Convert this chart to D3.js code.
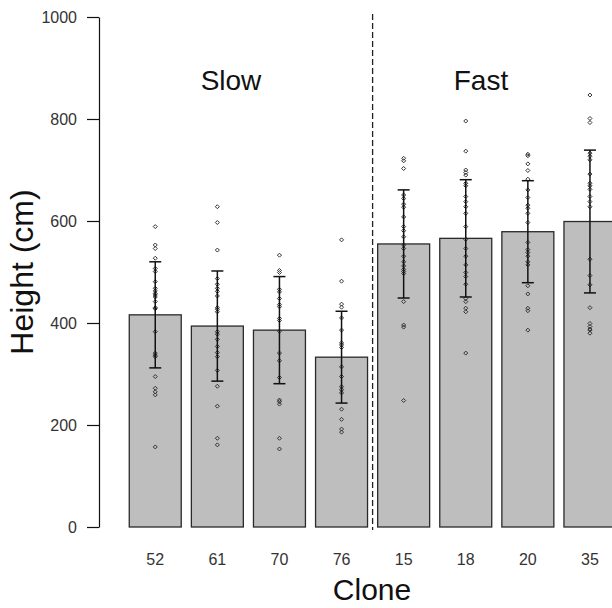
<!DOCTYPE html>
<html>
<head>
<meta charset="utf-8">
<script src="https://cdn.jsdelivr.net/npm/d3@7"></script>
<style>
  body { margin: 0; background: #fff; }
  svg { display: block; font-family: "Liberation Sans", Arial, sans-serif; }
</style>
</head>
<body>
<div id="chart"></div>
<script>
// clones, grouped by growth rate
var clones = ["52", "61", "70", "76", "15", "18", "20", "35"];
var groups = ["Slow", "Fast"];

// mean height and sd per clone (cm)
var means = [416, 394, 386, 333, 555, 566, 579, 599];
var sds = [104, 108, 105, 90, 106, 115, 100, 140];

// individual trees per clone
var h52 = [589, 553, 546, 527, 507, 501, 481, 468, 463, 458, 455, 451, 442, 430, 428, 383, 341, 337, 334, 295, 272, 265, 259, 157];
var h61 = [628, 597, 543, 487, 476, 468, 462, 453, 430, 427, 422, 383, 378, 368, 354, 342, 334, 307, 276, 237, 174, 161];
var h70 = [533, 503, 499, 466, 461, 448, 436, 432, 409, 405, 384, 341, 326, 293, 249, 246, 241, 174, 153];
var h76 = [563, 482, 437, 431, 410, 386, 361, 357, 352, 314, 295, 275, 269, 263, 231, 211, 192, 186];
var h15 = [723, 718, 703, 651, 644, 633, 627, 608, 589, 581, 569, 553, 546, 531, 520, 512, 505, 501, 497, 442, 396, 392, 248];
var h18 = [796, 737, 700, 695, 690, 674, 669, 648, 638, 628, 615, 589, 564, 546, 531, 514, 499, 491, 476, 448, 442, 429, 422, 341];
var h20 = [731, 728, 712, 699, 682, 661, 646, 631, 625, 615, 597, 558, 544, 538, 531, 520, 514, 473, 457, 429, 424, 386];
var h35 = [847, 801, 793, 733, 727, 720, 692, 674, 669, 662, 648, 638, 628, 525, 493, 475, 430, 399, 393, 388, 386, 380];
var trees = [h52, h61, h70, h76, h15, h18, h20, h35];

var yTicks = [0, 200, 400, 600, 800, 1000];

var width = 612, height = 608;

var svg = d3.select("#chart").append("svg")
    .attr("width", width)
    .attr("height", height);

var x = d3.scaleBand()
    .domain(clones)
    .range([124.2, 621])
    .paddingInner(0.163)
    .paddingOuter(0.0815);

var y = d3.scaleLinear()
    .domain([0, 1000])
    .range([527, 17]);

var bw = x.bandwidth();

// y axis
var yAxis = svg.append("g")
    .attr("transform", "translate(99,0)")
    .call(d3.axisLeft(y).tickValues(yTicks).tickFormat(d3.format("d"))
        .tickSize(12).tickSizeOuter(0).tickPadding(10));
yAxis.select(".domain").attr("stroke", "#111").attr("stroke-width", 1.2);
yAxis.selectAll(".tick line").attr("stroke", "#111").attr("stroke-width", 1.2);
yAxis.selectAll(".tick text")
    .attr("font-size", 16)
    .attr("fill", "#333")
    .style("font-family", "Liberation Sans, Arial, sans-serif");

// bars
svg.selectAll("rect.bar")
    .data(clones)
  .enter().append("rect")
    .attr("class", "bar")
    .attr("x", function(d) { return x(d); })
    .attr("y", function(d, i) { return y(means[i]); })
    .attr("width", bw)
    .attr("height", function(d, i) { return y(0) - y(means[i]); })
    .attr("fill", "#bebebe")
    .attr("stroke", "#2a2a2a")
    .attr("stroke-width", 1.3);

// slow / fast divider
var divX = (x("76") + bw + x("15")) / 2;
svg.append("line")
    .attr("x1", divX).attr("x2", divX)
    .attr("y1", 14).attr("y2", 530)
    .attr("stroke", "#222")
    .attr("stroke-width", 1.3)
    .attr("stroke-dasharray", "6,3");

// individual points (open diamonds)
var diamond = "M0,-2L2,0L0,2L-2,0Z";
clones.forEach(function(c, i) {
  var cx = x(c) + bw / 2;
  svg.selectAll("path.pt" + c)
      .data(trees[i])
    .enter().append("path")
      .attr("class", "pt" + c)
      .attr("d", diamond)
      .attr("transform", function(v) { return "translate(" + cx + "," + y(v) + ")"; })
      .attr("fill", "none")
      .attr("stroke", "#333")
      .attr("stroke-width", 1);
});

// error bars (mean +/- sd)
var err = svg.selectAll("g.err")
    .data(clones)
  .enter().append("g")
    .attr("class", "err")
    .attr("transform", function(d) { return "translate(" + (x(d) + bw / 2) + ",0)"; });

err.append("line")
    .attr("y1", function(d, i) { return y(means[i] - sds[i]); })
    .attr("y2", function(d, i) { return y(means[i] + sds[i]); })
    .attr("stroke", "#111")
    .attr("stroke-width", 1.5);

err.append("line")
    .attr("x1", -6).attr("x2", 6)
    .attr("y1", function(d, i) { return y(means[i] + sds[i]); })
    .attr("y2", function(d, i) { return y(means[i] + sds[i]); })
    .attr("stroke", "#111")
    .attr("stroke-width", 1.5);

err.append("line")
    .attr("x1", -6).attr("x2", 6)
    .attr("y1", function(d, i) { return y(means[i] - sds[i]); })
    .attr("y2", function(d, i) { return y(means[i] - sds[i]); })
    .attr("stroke", "#111")
    .attr("stroke-width", 1.5);

// clone labels
svg.selectAll("text.clone")
    .data(clones)
  .enter().append("text")
    .attr("class", "clone")
    .attr("x", function(d) { return x(d) + bw / 2; })
    .attr("y", 565)
    .attr("text-anchor", "middle")
    .attr("font-size", 16)
    .attr("fill", "#333")
    .text(function(d) { return d; });

// group labels
svg.append("text")
    .attr("x", 231).attr("y", 90)
    .attr("text-anchor", "middle")
    .attr("font-size", 28)
    .attr("fill", "#111")
    .text(groups[0]);

svg.append("text")
    .attr("x", 481).attr("y", 90)
    .attr("text-anchor", "middle")
    .attr("font-size", 28)
    .attr("fill", "#111")
    .text(groups[1]);

// axis titles
svg.append("text")
    .attr("transform", "translate(33,272) rotate(-90)")
    .attr("text-anchor", "middle")
    .attr("font-size", 32)
    .attr("fill", "#111")
    .text("Height (cm)");

svg.append("text")
    .attr("x", 372).attr("y", 600)
    .attr("text-anchor", "middle")
    .attr("font-size", 30)
    .attr("fill", "#111")
    .text("Clone");
</script>
</body>
</html>
